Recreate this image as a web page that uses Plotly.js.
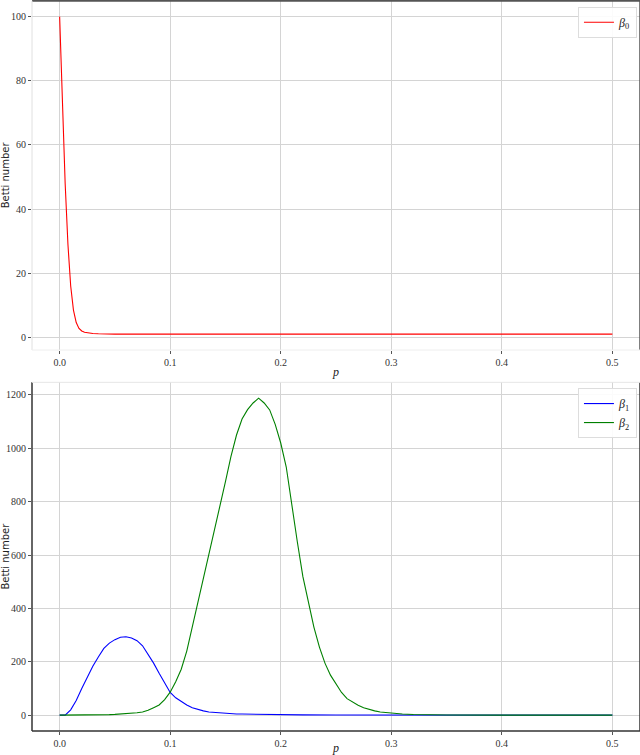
<!DOCTYPE html>
<html>
<head>
<meta charset="utf-8">
<script src="https://cdn.plot.ly/plotly-3.0.1.min.js"></script>
<style>html,body{margin:0;padding:0;background:#fff;}#chart{width:640px;height:755px;}</style>
</head>
<body>
<div id="chart"></div>
<script>
// ---- data ----
const p0 = [0, 0.0025, 0.005, 0.0075, 0.01, 0.0125, 0.015, 0.0175, 0.02, 0.0225, 0.025, 0.03, 0.035, 0.04, 0.045, 0.05, 0.1, 0.15, 0.2, 0.25, 0.3, 0.35, 0.4, 0.45, 0.5];
const beta0 = [100, 72, 48, 29, 16, 8.5, 4.6, 2.8, 2.0, 1.6, 1.4, 1.2, 1.1, 1.05, 1.0, 1.0, 1.0, 1.0, 1.0, 1.0, 1.0, 1.0, 1.0, 1.0, 1.0];

const p1 = [0, 0.005, 0.01, 0.015, 0.02, 0.025, 0.03, 0.035, 0.04, 0.045, 0.05, 0.055, 0.06, 0.065, 0.07, 0.075, 0.08, 0.085, 0.09, 0.095, 0.1, 0.105, 0.11, 0.115, 0.12, 0.125, 0.13, 0.135, 0.14, 0.145, 0.15, 0.155, 0.16, 0.165, 0.17, 0.175, 0.18, 0.19, 0.2, 0.22, 0.25, 0.3, 0.35, 0.4, 0.45, 0.5];
const beta1 = [0, 0, 20, 55, 100, 142, 183, 218, 250, 270, 283, 292, 294, 289, 279, 260, 230, 195, 157, 120, 85, 65, 50, 38, 28, 21, 16, 12, 10, 8, 6, 5, 4.5, 4, 3.5, 3, 2.5, 2, 1.5, 1, 0.5, 0.2, 0, 0, 0, 0];

const p2 = [0, 0.005, 0.01, 0.015, 0.02, 0.025, 0.03, 0.035, 0.04, 0.045, 0.05, 0.055, 0.06, 0.065, 0.07, 0.075, 0.08, 0.085, 0.09, 0.095, 0.1, 0.105, 0.11, 0.115, 0.12, 0.125, 0.13, 0.135, 0.14, 0.145, 0.15, 0.155, 0.16, 0.165, 0.17, 0.175, 0.18, 0.185, 0.19, 0.195, 0.2, 0.205, 0.21, 0.215, 0.22, 0.225, 0.23, 0.235, 0.24, 0.245, 0.25, 0.255, 0.26, 0.265, 0.27, 0.275, 0.28, 0.285, 0.29, 0.295, 0.3, 0.31, 0.32, 0.33, 0.35, 0.4, 0.45, 0.5];
const beta2 = [0, 0, 0, 0, 0.5, 1, 1, 1.5, 1.5, 2, 3, 4, 5, 7, 9, 12, 18, 28, 38, 58, 86, 125, 172, 240, 330, 420, 510, 595, 690, 785, 875, 970, 1050, 1110, 1145, 1170, 1188, 1170, 1144, 1090, 1020, 930, 780, 650, 520, 420, 330, 255, 195, 150, 115, 85, 62, 48, 37, 28, 21, 16, 12, 10, 7, 4, 2.5, 1.5, 0.8, 0.2, 0, 0];

const xTicks = [0, 0.1, 0.2, 0.3, 0.4, 0.5];
const xTickText = ["0.0", "0.1", "0.2", "0.3", "0.4", "0.5"];
const yTicksTop = [0, 20, 40, 60, 80, 100];
const yTicksBottom = [0, 200, 400, 600, 800, 1000, 1200];

// ---- styles ----
const serif = "Liberation Serif";
const tickFont = {family: serif, size: 10, color: "#333"};
const gridColor = "#d4d4d4";
const lineW = 1.1;

const traces = [
  {x: p0, y: beta0, type: "scatter", mode: "lines", name: "<i>β</i><sub>0</sub>",
   line: {color: "#ff0000", width: lineW}, xaxis: "x", yaxis: "y", legend: "legend"},
  {x: p1, y: beta1, type: "scatter", mode: "lines", name: "<i>β</i><sub>1</sub>",
   line: {color: "#0000ff", width: lineW}, xaxis: "x2", yaxis: "y2", legend: "legend2"},
  {x: p2, y: beta2, type: "scatter", mode: "lines", name: "<i>β</i><sub>2</sub>",
   line: {color: "#008000", width: lineW}, xaxis: "x2", yaxis: "y2", legend: "legend2"}
];

function xAxis(anchor) {
  return {
    range: [-0.025, 0.525], tickvals: xTicks, ticktext: xTickText,
    tickfont: tickFont, ticks: "outside", ticklen: 3, tickcolor: "#555",
    showgrid: true, gridcolor: gridColor, gridwidth: 1, zeroline: false,
    showline: false, anchor: anchor,
    title: {text: "<i>p</i>", font: {family: serif, size: 12, color: "#222"}, standoff: 0}
  };
}
function yAxis(domain, range, ticks, anchor) {
  return {
    domain: domain, range: range, tickvals: ticks,
    tickfont: tickFont, ticks: "outside", ticklen: 3, tickcolor: "#555",
    showgrid: true, gridcolor: gridColor, gridwidth: 1, zeroline: false,
    showline: false, anchor: anchor,
    title: {text: "Betti number", font: {family: "DejaVu Sans", size: 10, color: "#222"}, standoff: 4}
  };
}

const frame = (xr, yr, x0, y0, x1, y1, color, w) => ({
  type: "line", xref: xr + " domain", yref: yr + " domain",
  x0: x0, y0: y0, x1: x1, y1: y1, line: {color: color, width: w}, layer: "above"
});

const layout = {
  width: 640, height: 755,
  margin: {l: 32, r: 0, t: 0, b: 0},
  paper_bgcolor: "#ffffff", plot_bgcolor: "#ffffff",
  showlegend: true,
  xaxis: xAxis("y"),
  yaxis: yAxis([0.5364, 0.999], [-3.95, 104.95], yTicksTop, "x"),
  xaxis2: xAxis("y2"),
  yaxis2: yAxis([0.0318, 0.4936], [-59.4, 1247.4], yTicksBottom, "x2"),
  legend: {
    x: 0.995, xanchor: "right", y: 0.991, yanchor: "top",
    bgcolor: "rgba(255,255,255,0.9)", bordercolor: "#dddddd", borderwidth: 1,
    font: {family: serif, size: 12, color: "#222"},
    itemwidth: 30
  },
  legend2: {
    x: 0.995, xanchor: "right", y: 0.486, yanchor: "top",
    bgcolor: "rgba(255,255,255,0.9)", bordercolor: "#dddddd", borderwidth: 1,
    font: {family: serif, size: 12, color: "#222"},
    itemwidth: 30, tracegroupgap: 0
  },
  shapes: [
    frame("x", "y", 0, 1, 1, 1, "#555555", 2),
    frame("x", "y", 1, 0, 1, 1, "#555555", 1.5),
    frame("x", "y", 0, 0, 0, 1, "#e0e0e0", 1),
    frame("x", "y", 0, 0, 1, 0, "#eeeeee", 1),
    frame("x2", "y2", 0, 0, 0, 1, "#333333", 1.5),
    frame("x2", "y2", 0, 0, 1, 0, "#333333", 1.5),
    frame("x2", "y2", 1, 0, 1, 1, "#333333", 1.5),
    frame("x2", "y2", 0, 1, 1, 1, "#e6e6e6", 1)
  ]
};

Plotly.newPlot("chart", traces, layout, {displayModeBar: false, staticPlot: true});
</script>
</body>
</html>
